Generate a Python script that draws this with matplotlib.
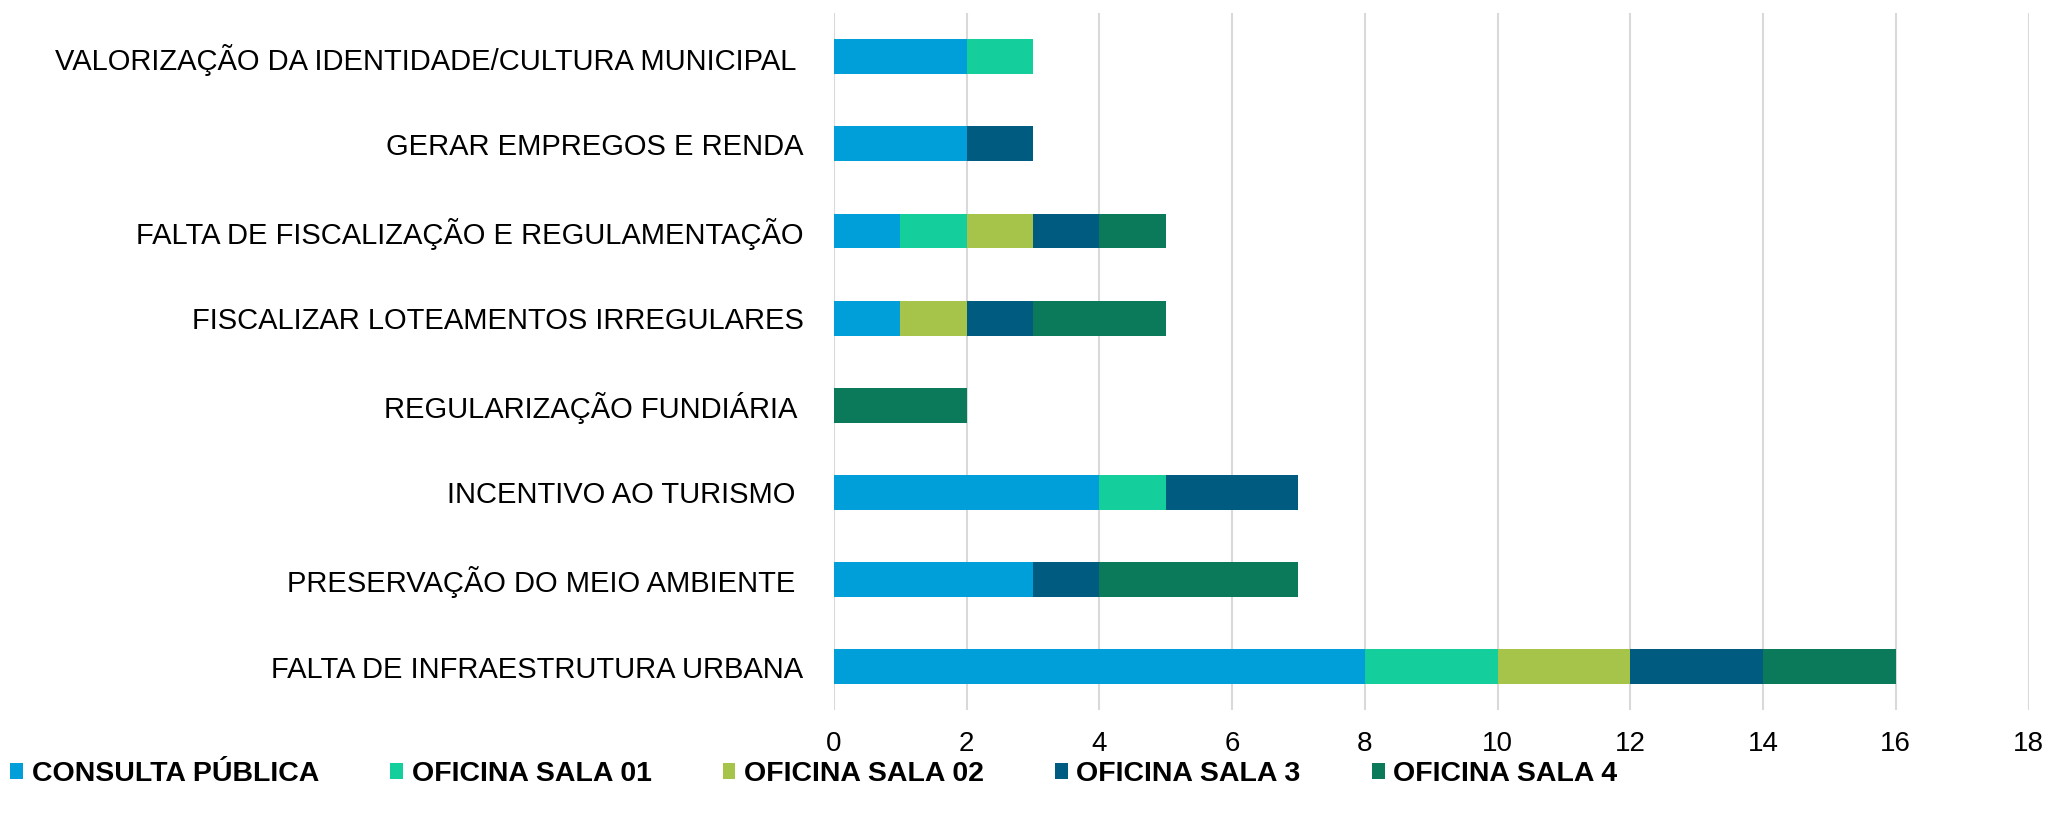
import matplotlib
matplotlib.use('Agg')
import matplotlib.pyplot as plt
import numpy as np

plt.rcParams['font.family'] = ['Liberation Sans', 'DejaVu Sans']

categories = [
    'FALTA DE INFRAESTRUTURA URBANA',
    'PRESERVAÇÃO DO MEIO AMBIENTE ',
    'INCENTIVO AO TURISMO ',
    'REGULARIZAÇÃO FUNDIÁRIA ',
    'FISCALIZAR LOTEAMENTOS IRREGULARES',
    'FALTA DE FISCALIZAÇÃO E REGULAMENTAÇÃO',
    'GERAR EMPREGOS E RENDA',
    'VALORIZAÇÃO DA IDENTIDADE/CULTURA MUNICIPAL ',
]
series_names = ['CONSULTA PÚBLICA', 'OFICINA SALA 01', 'OFICINA SALA 02',
                'OFICINA SALA 3', 'OFICINA SALA 4']
consulta = [8, 3, 4, 0, 1, 1, 2, 2]
sala01 = [2, 0, 1, 0, 0, 1, 0, 1]
sala02 = [2, 0, 0, 0, 1, 1, 0, 0]
sala3 = [2, 1, 2, 0, 1, 1, 1, 0]
sala4 = [2, 3, 0, 2, 2, 1, 0, 0]
colors = ['#009FDA', '#14CF9B', '#A6C34A', '#005B80', '#0B7A5A']

fig = plt.figure(figsize=(20.49, 8.21), dpi=100)
ax = fig.add_axes([0.407, 0.135, 0.583, 0.849])

y = np.arange(len(categories))
left = np.zeros(len(categories))
handles = []
for name, vals, c in zip(series_names, [consulta, sala01, sala02, sala3, sala4], colors):
    b = ax.barh(y, vals, left=left, height=0.4, color=c, label=name)
    handles.append(b)
    left += np.array(vals)

ax.set_xlim(0, 18)
ax.set_ylim(-0.5, len(categories) - 0.5)
ax.set_xticks(range(0, 19, 2))
ax.set_yticks(y)
ax.set_yticklabels(categories, fontsize=21)
ax.tick_params(axis='x', labelsize=20, length=0, pad=15)
ax.tick_params(axis='y', length=0, pad=22)
ax.grid(axis='x', color='#d9d9d9', linewidth=1.5)
ax.set_axisbelow(True)
for s in ax.spines.values():
    s.set_visible(False)

fig.legend(handles=handles, labels=series_names, loc='center left',
           bbox_to_anchor=(0.005, 0.057), ncol=5, frameon=False,
           borderaxespad=0, borderpad=0,
           prop={'weight': 'bold', 'size': 20.5}, handlelength=0.45,
           handleheight=0.45, handletextpad=0.3, columnspacing=2.5)

fig.savefig('out.png', dpi=100)
